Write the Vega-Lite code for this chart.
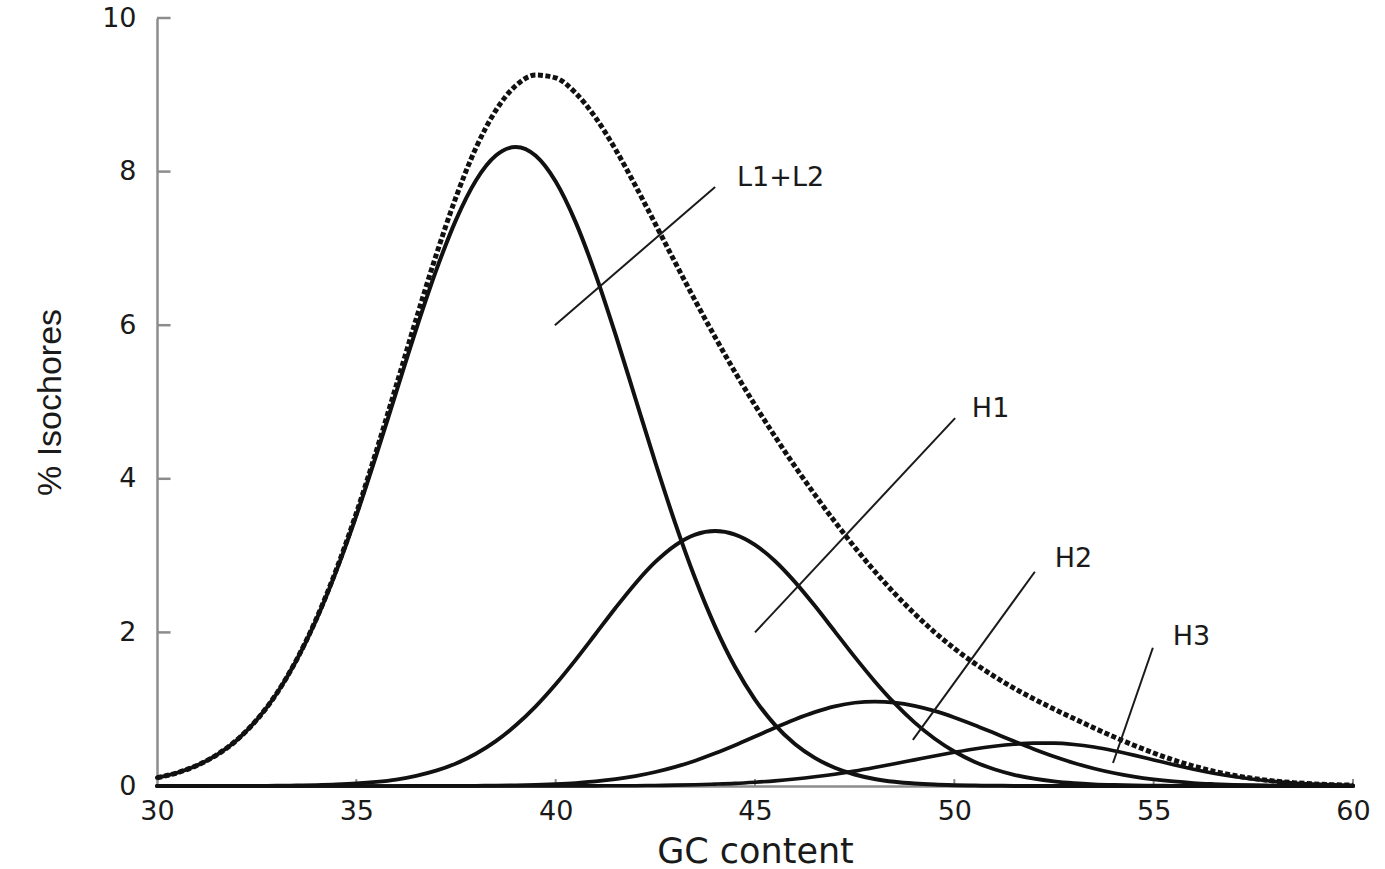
{
  "$schema": "https://vega.github.io/schema/vega-lite/v6.json",
  "width": 1196,
  "height": 768,
  "autosize": "none",
  "padding": {"left": 157, "top": 18, "right": 32, "bottom": 83},
  "background": "white",
  "config": {
    "view": {"stroke": null},
    "axis": {
      "grid": false,
      "ticks": false,
      "domainColor": "#8c8c8c",
      "domainWidth": 2.5,
      "labelFont": "DejaVu Sans",
      "labelFontSize": 27,
      "labelColor": "#1a1a1a",
      "labelFlush": false,
      "labelOverlap": false,
      "titleFontWeight": "normal",
      "titleColor": "#1a1a1a"
    },
    "axisX": {"labelPadding": 12, "titleFont": "DejaVu Sans", "titleFontSize": 35, "titleBaseline": "alphabetic", "titleY": 76},
    "axisY": {"labelPadding": 21, "titleFont": "Liberation Sans", "titleFontSize": 34, "titleBaseline": "alphabetic", "titleX": -97}
  },
  "datasets": {
    "curves": [
      {"gc": 30, "L": 0.107, "H1": 0, "H2": 0, "H3": 0, "total": 0.107},
      {"gc": 30.5, "L": 0.171, "H1": 0, "H2": 0, "H3": 0, "total": 0.171},
      {"gc": 31, "L": 0.267, "H1": 0, "H2": 0, "H3": 0, "total": 0.267},
      {"gc": 31.5, "L": 0.405, "H1": 0.001, "H2": 0, "H3": 0, "total": 0.406},
      {"gc": 32, "L": 0.597, "H1": 0.001, "H2": 0, "H3": 0, "total": 0.598},
      {"gc": 32.5, "L": 0.859, "H1": 0.002, "H2": 0, "H3": 0, "total": 0.861},
      {"gc": 33, "L": 1.201, "H1": 0.003, "H2": 0, "H3": 0, "total": 1.204},
      {"gc": 33.5, "L": 1.637, "H1": 0.006, "H2": 0, "H3": 0, "total": 1.643},
      {"gc": 34, "L": 2.17, "H1": 0.011, "H2": 0, "H3": 0, "total": 2.181},
      {"gc": 34.5, "L": 2.802, "H1": 0.019, "H2": 0, "H3": 0, "total": 2.821},
      {"gc": 35, "L": 3.521, "H1": 0.032, "H2": 0, "H3": 0, "total": 3.553},
      {"gc": 35.5, "L": 4.307, "H1": 0.053, "H2": 0, "H3": 0, "total": 4.36},
      {"gc": 36, "L": 5.129, "H1": 0.084, "H2": 0, "H3": 0, "total": 5.213},
      {"gc": 36.5, "L": 5.946, "H1": 0.132, "H2": 0.001, "H3": 0, "total": 6.079},
      {"gc": 37, "L": 6.71, "H1": 0.199, "H2": 0.001, "H3": 0, "total": 6.91},
      {"gc": 37.5, "L": 7.372, "H1": 0.293, "H2": 0.002, "H3": 0, "total": 7.667},
      {"gc": 38, "L": 7.885, "H1": 0.42, "H2": 0.003, "H3": 0, "total": 8.308},
      {"gc": 38.5, "L": 8.209, "H1": 0.584, "H2": 0.005, "H3": 0, "total": 8.798},
      {"gc": 39, "L": 8.32, "H1": 0.79, "H2": 0.009, "H3": 0, "total": 9.119},
      {"gc": 39.5, "L": 8.205, "H1": 1.037, "H2": 0.015, "H3": 0, "total": 9.257},
      {"gc": 40, "L": 7.87, "H1": 1.324, "H2": 0.025, "H3": 0.001, "total": 9.22},
      {"gc": 40.5, "L": 7.342, "H1": 1.642, "H2": 0.039, "H3": 0.001, "total": 9.024},
      {"gc": 41, "L": 6.662, "H1": 1.979, "H2": 0.06, "H3": 0.002, "total": 8.703},
      {"gc": 41.5, "L": 5.88, "H1": 2.318, "H2": 0.089, "H3": 0.003, "total": 8.29},
      {"gc": 42, "L": 5.046, "H1": 2.638, "H2": 0.129, "H3": 0.004, "total": 7.817},
      {"gc": 42.5, "L": 4.212, "H1": 2.917, "H2": 0.182, "H3": 0.007, "total": 7.318},
      {"gc": 43, "L": 3.42, "H1": 3.134, "H2": 0.249, "H3": 0.011, "total": 6.814},
      {"gc": 43.5, "L": 2.701, "H1": 3.273, "H2": 0.33, "H3": 0.016, "total": 6.32},
      {"gc": 44, "L": 2.075, "H1": 3.32, "H2": 0.425, "H3": 0.024, "total": 5.844},
      {"gc": 44.5, "L": 1.549, "H1": 3.274, "H2": 0.531, "H3": 0.034, "total": 5.388},
      {"gc": 45, "L": 1.126, "H1": 3.14, "H2": 0.644, "H3": 0.049, "total": 4.959},
      {"gc": 45.5, "L": 0.796, "H1": 2.93, "H2": 0.759, "H3": 0.067, "total": 4.552},
      {"gc": 46, "L": 0.547, "H1": 2.658, "H2": 0.867, "H3": 0.091, "total": 4.163},
      {"gc": 46.5, "L": 0.366, "H1": 2.346, "H2": 0.962, "H3": 0.12, "total": 3.794},
      {"gc": 47, "L": 0.238, "H1": 2.014, "H2": 1.037, "H3": 0.154, "total": 3.443},
      {"gc": 47.5, "L": 0.15, "H1": 1.681, "H2": 1.084, "H3": 0.194, "total": 3.109},
      {"gc": 48, "L": 0.092, "H1": 1.365, "H2": 1.1, "H3": 0.24, "total": 2.797},
      {"gc": 48.5, "L": 0.055, "H1": 1.078, "H2": 1.086, "H3": 0.289, "total": 2.508},
      {"gc": 49, "L": 0.032, "H1": 0.828, "H2": 1.044, "H3": 0.34, "total": 2.244},
      {"gc": 49.5, "L": 0.018, "H1": 0.618, "H2": 0.978, "H3": 0.391, "total": 2.005},
      {"gc": 50, "L": 0.01, "H1": 0.449, "H2": 0.893, "H3": 0.439, "total": 1.791},
      {"gc": 50.5, "L": 0.005, "H1": 0.317, "H2": 0.795, "H3": 0.483, "total": 1.6},
      {"gc": 51, "L": 0.003, "H1": 0.218, "H2": 0.689, "H3": 0.518, "total": 1.428},
      {"gc": 51.5, "L": 0.001, "H1": 0.146, "H2": 0.582, "H3": 0.544, "total": 1.273},
      {"gc": 52, "L": 0.001, "H1": 0.095, "H2": 0.479, "H3": 0.558, "total": 1.133},
      {"gc": 52.5, "L": 0, "H1": 0.06, "H2": 0.384, "H3": 0.558, "total": 1.002},
      {"gc": 53, "L": 0, "H1": 0.037, "H2": 0.3, "H3": 0.541, "total": 0.878},
      {"gc": 53.5, "L": 0, "H1": 0.022, "H2": 0.228, "H3": 0.507, "total": 0.757},
      {"gc": 54, "L": 0, "H1": 0.013, "H2": 0.169, "H3": 0.459, "total": 0.641},
      {"gc": 54.5, "L": 0, "H1": 0.007, "H2": 0.122, "H3": 0.402, "total": 0.531},
      {"gc": 55, "L": 0, "H1": 0.004, "H2": 0.086, "H3": 0.34, "total": 0.43},
      {"gc": 55.5, "L": 0, "H1": 0.002, "H2": 0.059, "H3": 0.277, "total": 0.338},
      {"gc": 56, "L": 0, "H1": 0.001, "H2": 0.039, "H3": 0.219, "total": 0.259},
      {"gc": 56.5, "L": 0, "H1": 0, "H2": 0.026, "H3": 0.167, "total": 0.193},
      {"gc": 57, "L": 0, "H1": 0, "H2": 0.016, "H3": 0.123, "total": 0.139},
      {"gc": 57.5, "L": 0, "H1": 0, "H2": 0.01, "H3": 0.088, "total": 0.098},
      {"gc": 58, "L": 0, "H1": 0, "H2": 0.006, "H3": 0.06, "total": 0.066},
      {"gc": 58.5, "L": 0, "H1": 0, "H2": 0.004, "H3": 0.04, "total": 0.044},
      {"gc": 59, "L": 0, "H1": 0, "H2": 0.002, "H3": 0.026, "total": 0.028},
      {"gc": 59.5, "L": 0, "H1": 0, "H2": 0.001, "H3": 0.016, "total": 0.017},
      {"gc": 60, "L": 0, "H1": 0, "H2": 0.001, "H3": 0.01, "total": 0.011}
    ],
    "pointers": [
      {"name": "L1+L2", "x1": 39.98, "y1": 6.0, "x2": 44.0, "y2": 7.8, "lx": 44.55, "ly": 7.92},
      {"name": "H1", "x1": 45.0, "y1": 2.0, "x2": 50.02, "y2": 4.79, "lx": 50.44, "ly": 4.91},
      {"name": "H2", "x1": 48.96, "y1": 0.6, "x2": 52.02, "y2": 2.79, "lx": 52.52, "ly": 2.96},
      {"name": "H3", "x1": 53.98, "y1": 0.3, "x2": 54.98, "y2": 1.8, "lx": 55.48, "ly": 1.94}
    ],
    "yticks": [{"v": 2}, {"v": 4}, {"v": 6}, {"v": 8}, {"v": 10}],
    "xticks": [{"v": 35}, {"v": 40}, {"v": 45}, {"v": 50}, {"v": 55}, {"v": 60}]
  },
  "layer": [
    {
      "data": {"name": "yticks"},
      "mark": {"type": "rule", "color": "#8c8c8c", "strokeWidth": 2.5},
      "encoding": {
        "y": {"field": "v", "type": "quantitative", "title": "% Isochores",
              "scale": {"domain": [0, 10], "nice": false},
              "axis": {"values": [0, 2, 4, 6, 8, 10], "format": "d"}},
        "x": {"datum": 30, "type": "quantitative", "title": "GC content",
              "scale": {"domain": [30, 60], "nice": false},
              "axis": {"values": [30, 35, 40, 45, 50, 55, 60], "format": "d"}},
        "x2": {"datum": 30.34}
      }
    },
    {
      "data": {"name": "xticks"},
      "mark": {"type": "rule", "color": "#8c8c8c", "strokeWidth": 2},
      "encoding": {
        "x": {"field": "v", "type": "quantitative", "title": "GC content"},
        "y": {"datum": 0, "type": "quantitative", "title": "% Isochores"},
        "y2": {"datum": 0.09}
      }
    },
    {
      "data": {"name": "curves"},
      "transform": [{"fold": ["L", "H1", "H2", "H3"], "as": ["component", "pct"]}],
      "mark": {"type": "line", "interpolate": "monotone", "color": "#111111", "strokeCap": "round", "strokeJoin": "round"},
      "encoding": {
        "x": {"field": "gc", "type": "quantitative", "title": "GC content"},
        "y": {"field": "pct", "type": "quantitative", "title": "% Isochores"},
        "detail": {"field": "component", "type": "nominal"},
        "strokeWidth": {"field": "component", "type": "nominal",
                        "scale": {"domain": ["L", "H1", "H2", "H3"], "range": [4, 3.6, 3, 3]},
                        "legend": null}
      }
    },
    {
      "data": {"name": "curves"},
      "mark": {"type": "line", "interpolate": "monotone", "color": "#111111", "strokeWidth": 5, "strokeDash": [5, 2.5], "strokeCap": "butt"},
      "encoding": {
        "x": {"field": "gc", "type": "quantitative", "title": "GC content"},
        "y": {"field": "total", "type": "quantitative", "title": "% Isochores"}
      }
    },
    {
      "data": {"name": "pointers"},
      "mark": {"type": "rule", "color": "#1a1a1a", "strokeWidth": 2},
      "encoding": {
        "x": {"field": "x1", "type": "quantitative", "title": "GC content"},
        "y": {"field": "y1", "type": "quantitative", "title": "% Isochores"},
        "x2": {"field": "x2"},
        "y2": {"field": "y2"}
      }
    },
    {
      "data": {"name": "pointers"},
      "mark": {"type": "text", "align": "left", "baseline": "middle", "font": "DejaVu Sans", "fontSize": 27, "color": "#1a1a1a"},
      "encoding": {
        "x": {"field": "lx", "type": "quantitative", "title": "GC content"},
        "y": {"field": "ly", "type": "quantitative", "title": "% Isochores"},
        "text": {"field": "name", "type": "nominal"}
      }
    }
  ]
}
